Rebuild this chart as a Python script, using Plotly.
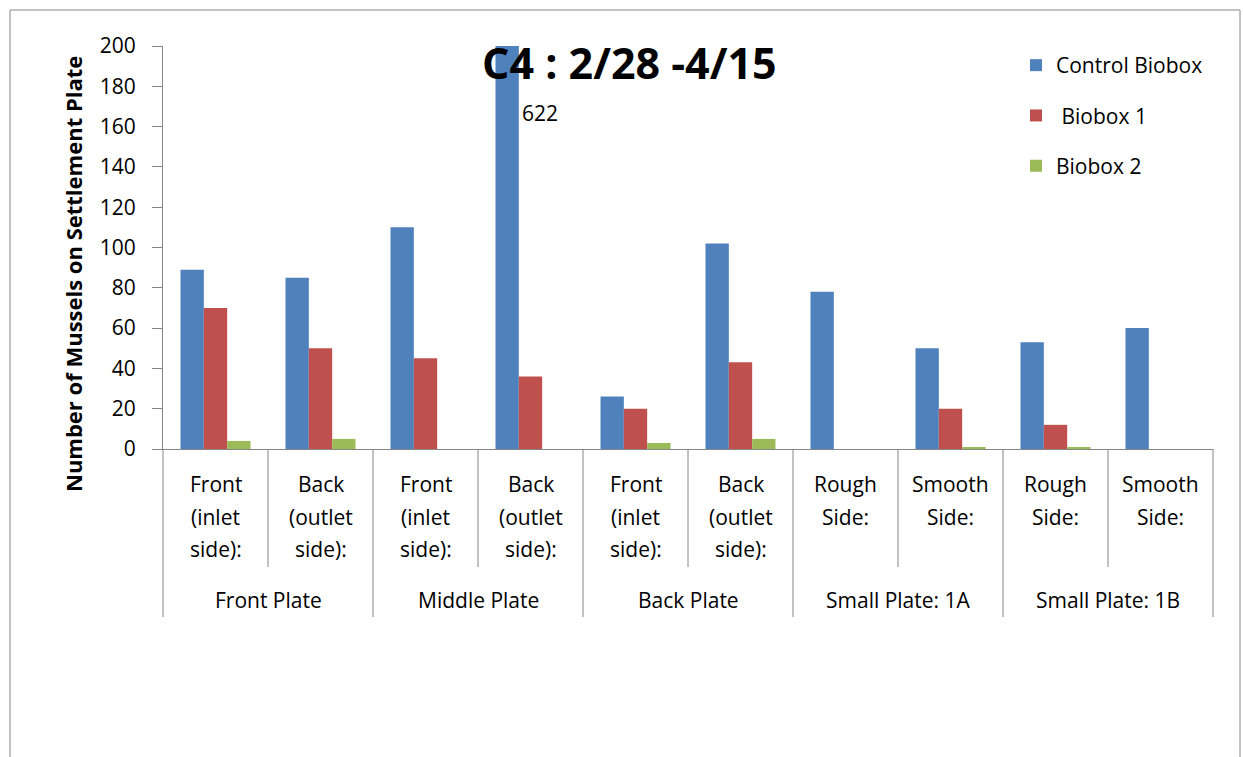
import plotly.graph_objects as go

# Settlement counts per plate side, three biobox treatments
outer_groups = ["Front Plate", "Middle Plate", "Back Plate", "Small Plate: 1A", "Small Plate: 1B"]
inner_labels = [
    "Front\n(inlet\nside):", "Back\n(outlet\nside):",
    "Front\n(inlet\nside):", "Back\n(outlet\nside):",
    "Front\n(inlet\nside):", "Back\n(outlet\nside):",
    "Rough\nSide:", "Smooth\nSide:",
    "Rough\nSide:", "Smooth\nSide:",
]
control_biobox = [89, 85, 110, 622, 26, 102, 78, 50, 53, 60]
biobox_1 = [70, 50, 45, 36, 20, 43, 0, 20, 12, 0]
biobox_2 = [4, 5, 0, 0, 3, 5, 0, 1, 1, 0]
y_ticks = [0, 20, 40, 60, 80, 100, 120, 140, 160, 180, 200]

FONT = "'Open Sans', Calibri, Carlito, sans-serif"
AXIS_GREY = "#868686"
Y_MAX = 200
TXT = 21

n = len(inner_labels)
xs = list(range(n))
x_lo, x_hi = -0.5, n - 0.5

series = [
    ("Control Biobox", control_biobox, "#4F81BD"),
    (" Biobox 1", biobox_1, "#C0504D"),
    ("Biobox 2", biobox_2, "#9BBB59"),
]

fig = go.Figure()
for i, (name, vals, col) in enumerate(series):
    fig.add_trace(go.Bar(
        x=xs, y=vals, name=name, legendgroup=f"g{i}",
        marker=dict(color=col, line=dict(width=0)),
    ))

W, H = 1243, 757
L, R, T, B = 163, 30, 46, 308
plot_h = H - T - B
plot_w = W - L - R


def px_y(py):
    """Pixel row -> paper y."""
    return (H - B - py) / plot_h


def px_x(px):
    return (px - L) / plot_w


def to_paper_x(v):
    return (v - x_lo) / (x_hi - x_lo)


shapes = []
# outer chart border
shapes.append(dict(type="rect", xref="paper", yref="paper",
                   x0=px_x(10), x1=px_x(1240), y0=px_y(790), y1=px_y(10),
                   line=dict(color=AXIS_GREY, width=1), fillcolor="rgba(0,0,0,0)"))
# category dividers below the axis
per_group = n // len(outer_groups)
for k in range(n + 1):
    is_group_edge = (k % per_group == 0)
    shapes.append(dict(type="line", xref="paper", yref="paper",
                       x0=to_paper_x(k - 0.5), x1=to_paper_x(k - 0.5),
                       y0=0, y1=px_y(617 if is_group_edge else 567),
                       line=dict(color=AXIS_GREY, width=1)))

annotations = []
# inner category labels, one line each
line_rows = [484, 517, 549]
for i, lab in enumerate(inner_labels):
    for j, part in enumerate(lab.split("\n")):
        annotations.append(dict(x=i, xref="x", y=px_y(line_rows[j]), yref="paper",
                                text=part, showarrow=False, xanchor="center", yanchor="middle",
                                font=dict(family=FONT, size=TXT, color="black")))
# outer group labels
for g, lab in enumerate(outer_groups):
    annotations.append(dict(x=g * per_group + (per_group - 1) / 2, xref="x",
                            y=px_y(600), yref="paper", text=lab, showarrow=False,
                            xanchor="center", yanchor="middle",
                            font=dict(family=FONT, size=TXT, color="black")))

# value label for the bar that runs off the top of the axis
bar_slot = (1 - 1 / 3) / len(series)
for i, v in enumerate(control_biobox):
    if v > Y_MAX:
        annotations.append(dict(x=i - bar_slot + bar_slot / 2, xref="x",
                                y=px_y(113), yref="paper", text=str(v), showarrow=False,
                                xanchor="left", yanchor="middle", xshift=1,
                                font=dict(family=FONT, size=TXT, color="black")))

# chart title
annotations.append(dict(x=px_x(629), y=px_y(62), xref="paper", yref="paper",
                        text="<b>C4 : 2/28 -4/15</b>", showarrow=False,
                        xanchor="center", yanchor="middle",
                        font=dict(family=FONT, size=43, color="black")))
# y-axis title
annotations.append(dict(x=px_x(73), y=px_y(274), xref="paper", yref="paper",
                        text="<b>Number of Mussels on Settlement Plate</b>", textangle=-90,
                        showarrow=False, xanchor="center", yanchor="middle",
                        font=dict(family=FONT, size=22, color="black")))

fig.update_layout(
    width=W, height=H,
    margin=dict(l=L, r=R, t=T, b=B),
    paper_bgcolor="white", plot_bgcolor="white",
    barmode="group", bargap=1 / 3, bargroupgap=0,
    font=dict(family=FONT, size=TXT, color="black"),
    showlegend=True,
    legend=dict(x=px_x(1016), y=px_y(45), xanchor="left", yanchor="top",
                traceorder="grouped", tracegroupgap=20,
                font=dict(family=FONT, size=TXT, color="black"),
                bgcolor="rgba(0,0,0,0)"),
    shapes=shapes,
    annotations=annotations,
)
fig.update_xaxes(range=[x_lo, x_hi], showticklabels=False, ticks="",
                 showline=True, linecolor=AXIS_GREY, linewidth=1,
                 showgrid=False, zeroline=False, fixedrange=True)
fig.update_yaxes(range=[0, Y_MAX], tickvals=y_ticks, ticks="outside", ticklen=10,
                 tickcolor=AXIS_GREY, showline=True, linecolor=AXIS_GREY, linewidth=1,
                 showgrid=False, zeroline=False, ticklabelstandoff=12,
                 tickfont=dict(family=FONT, size=TXT, color="black"))

fig.write_html("out.html")
